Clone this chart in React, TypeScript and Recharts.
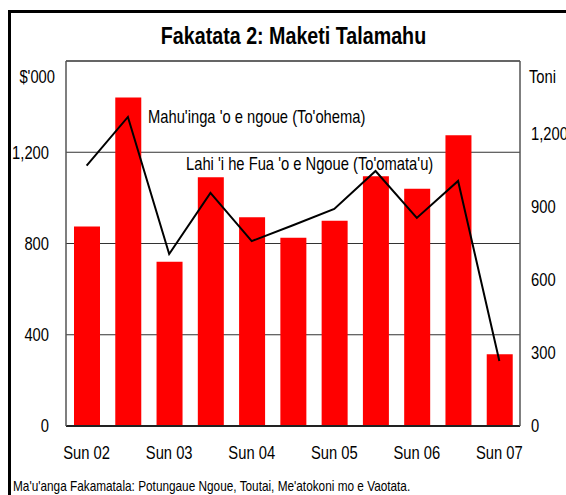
import React from 'react'
import {
  ComposedChart, Bar, Line, XAxis, YAxis, CartesianGrid, ReferenceLine
} from 'recharts'

// half-year periods (only the June ones are labelled on the axis)
const periods = [
  'Sun 02', 'Tis 02', 'Sun 03', 'Tis 03', 'Sun 04', 'Tis 04',
  'Sun 05', 'Tis 05', 'Sun 06', 'Tis 06', 'Sun 07',
]
// Mahu'inga 'o e ngoue ($'000) - bars, left axis
const valueK = [875, 1440, 720, 1090, 915, 825, 900, 1095, 1040, 1275, 315]
// Lahi 'i he fua 'o e ngoue (toni) - line, right axis
const tonnes = [1070, 1270, 707, 958, 760, 825, 892, 1048, 855, 1007, 267]

const leftTicks = [0, 400, 800, 1200]
const rightTicks = [0, 300, 600, 900, 1200]

const data = periods.map((p, i) => ({ period: p, value: valueK[i], tonnes: tonnes[i] }))

const FONT = "'Liberation Sans', Arial, sans-serif"
const SQUEEZE = 0.82 // the original uses a narrow face, not installed here
const fmt = (v: number) => v.toLocaleString('en-US')

type NTextProps = {
  x: number
  y: number
  size: number
  anchor?: 'start' | 'middle' | 'end'
  bold?: boolean
  dy?: string
  children: React.ReactNode
}

// narrow text: regular face squeezed horizontally
function NText({ x, y, size, anchor = 'start', bold, dy, children }: NTextProps) {
  return (
    <text
      transform={`translate(${x},${y}) scale(${SQUEEZE},1)`}
      fontFamily={FONT}
      fontSize={size}
      fontWeight={bold ? 'bold' : 'normal'}
      textAnchor={anchor}
      dy={dy}
      fill="#000"
    >
      {children}
    </text>
  )
}

const XTick = (p: any) => (
  <NText x={p.x} y={p.y} size={18} anchor="middle" dy="0.71em">{p.payload.value}</NText>
)
const LeftTick = (p: any) => (
  <NText x={p.x} y={p.y} size={18} anchor="end" dy="0.355em">{fmt(p.payload.value)}</NText>
)
const RightTick = (p: any) => (
  <NText x={p.x} y={p.y} size={18} anchor="start" dy="0.355em">{fmt(p.payload.value)}</NText>
)

export default function App() {
  return (
    <div style={{ position: 'absolute', left: 0, top: 0, width: 566, height: 495, overflow: 'hidden', background: '#fff' }}>
      <div style={{ position: 'absolute', left: 8, top: 10, width: 620, height: 540, border: '3px solid #000' }} />
      <ComposedChart
        width={566}
        height={495}
        data={data}
        margin={{ top: 61, right: 0, left: 0, bottom: 0 }}
        style={{ position: 'absolute', left: 0, top: 0 }}
      >
        <CartesianGrid yAxisId="l" vertical={false} stroke="#333" />
        <XAxis
          dataKey="period"
          height={69}
          interval={1}
          tickLine={false}
          tickSize={0}
          tickMargin={20}
          axisLine={{ stroke: '#222', strokeWidth: 2 }}
          tick={XTick}
        />
        <YAxis
          yAxisId="l"
          width={66}
          domain={[0, 1600]}
          ticks={leftTicks}
          tickLine={false}
          tickSize={0}
          tickMargin={17}
          axisLine={{ stroke: '#555', strokeWidth: 1.5 }}
          tick={LeftTick}
        />
        <YAxis
          yAxisId="r"
          orientation="right"
          width={46}
          domain={[0, 1500]}
          ticks={rightTicks}
          tickLine={false}
          tickSize={0}
          tickMargin={11}
          axisLine={{ stroke: '#555', strokeWidth: 1.5 }}
          tick={RightTick}
        />
        <ReferenceLine yAxisId="l" y={1600} stroke="#555" strokeWidth={1.5} />
        <Bar yAxisId="l" dataKey="value" fill="#ff0000" barSize={26} isAnimationActive={false} />
        <Line
          yAxisId="r"
          type="linear"
          dataKey="tonnes"
          stroke="#000"
          strokeWidth={2}
          dot={false}
          activeDot={false}
          isAnimationActive={false}
        />
      </ComposedChart>
      <svg width={566} height={495} style={{ position: 'absolute', left: 0, top: 0, pointerEvents: 'none' }}>
        <NText x={293.5} y={43.6} size={24} bold anchor="middle">Fakatata 2: Maketi Talamahu</NText>
        <NText x={55} y={83.4} size={18} anchor="end">$'000</NText>
        <NText x={529} y={83.4} size={18}>Toni</NText>
        <NText x={148} y={123.4} size={18}>Mahu'inga 'o e ngoue (To'ohema)</NText>
        <NText x={186} y={170.4} size={18}>Lahi 'i he Fua 'o e Ngoue (To'omata'u)</NText>
        <NText x={13} y={491} size={14.4}>Ma'u'anga Fakamatala: Potungaue Ngoue, Toutai, Me'atokoni mo e Vaotata.</NText>
      </svg>
    </div>
  )
}
